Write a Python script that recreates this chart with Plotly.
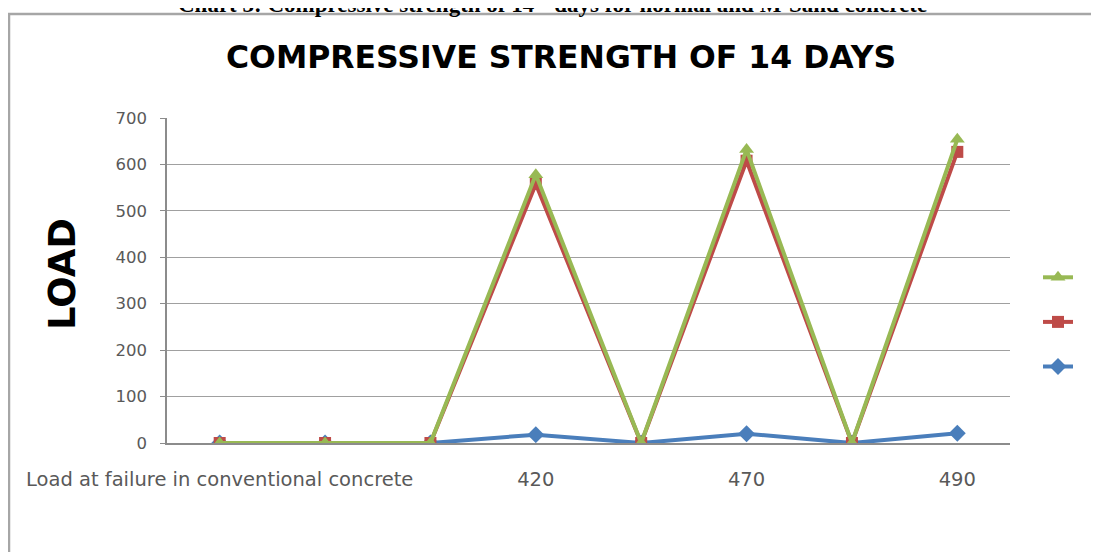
import plotly.graph_objects as go

# ---- data ----
categories = ["Load at failure in conventional concrete", "", "", "420", "", "470", "", "490"]
series_names = ["", " ", "  "]
blue_values = [0, 0, 0, 18, 0, 20, 0, 21]
red_values = [0, 0, 0, 558, 0, 608, 0, 627]
green_values = [0, 0, 0, 578, 0, 632, 0, 654]
y_ticks = [0, 100, 200, 300, 400, 500, 600, 700]

# the page body has an 8px margin, so the figure is offset by 8px in the window
OFF = 8
W, H = 1099 - OFF, 552 - OFF
# plot area in window pixels: x 167..1010, y 118..443
PX0, PX1, PY0, PY1 = 167, 1010, 118, 443
L, R = PX0 - OFF, W - (PX1 - OFF)
T, B = PY0 - OFF, H - (PY1 - OFF)
PW, PH = PX1 - PX0, PY1 - PY0


def px(xw):
    return (xw - PX0) / PW


def py(yw):
    return (PY1 - yw) / PH


x_idx = list(range(len(categories)))

fig = go.Figure()
fig.add_trace(go.Scatter(
    x=x_idx, y=blue_values, name=series_names[2], mode="lines+markers",
    line=dict(color="#4A7EBB", width=4),
    marker=dict(symbol="diamond", size=13, color="#4A7EBB"),
))
fig.add_trace(go.Scatter(
    x=x_idx, y=red_values, name=series_names[1], mode="lines+markers",
    line=dict(color="#BE4B48", width=4),
    marker=dict(symbol="square", size=12, color="#BE4B48"),
))
fig.add_trace(go.Scatter(
    x=x_idx, y=green_values, name=series_names[0], mode="lines+markers",
    line=dict(color="#98B954", width=4),
    marker=dict(symbol="triangle-up", size=13, color="#98B954"),
))

fig.update_layout(
    width=W, height=H,
    margin=dict(l=L, r=R, t=T, b=B, autoexpand=False),
    paper_bgcolor="white", plot_bgcolor="white",
    showlegend=True,
    legend=dict(
        x=px(1038), y=py(250), xanchor="left", yanchor="top",
        traceorder="reversed", font=dict(size=32, family="DejaVu Sans"),
        bgcolor="rgba(0,0,0,0)", itemwidth=30,
    ),
    xaxis=dict(
        range=[-0.5, len(categories) - 0.5],
        tickmode="array", tickvals=x_idx, ticktext=categories,
        showgrid=False, zeroline=False, automargin=False,
        showline=True, linecolor="#8c8c8c", linewidth=1.5,
        ticks="", tickfont=dict(family="DejaVu Sans", size=19.5, color="#595959"),
        ticklabelstandoff=18,
    ),
    yaxis=dict(
        range=[0, 700], tickvals=y_ticks, automargin=False,
        showgrid=True, gridcolor="#a0a0a0", gridwidth=1,
        zeroline=False,
        showline=True, linecolor="#8c8c8c", linewidth=1.5,
        ticks="outside", ticklen=5, tickcolor="#8c8c8c",
        tickfont=dict(family="DejaVu Sans", size=16.5, color="#595959"),
        ticklabelstandoff=10,
    ),
    shapes=[dict(
        type="rect", xref="paper", yref="paper",
        x0=px(9), x1=px(1130), y0=py(14), y1=py(600),
        line=dict(color="#a6a6a6", width=2.5), fillcolor="rgba(0,0,0,0)",
        layer="above",
    )],
    annotations=[
        dict(
            text="COMPRESSIVE STRENGTH OF 14 DAYS", showarrow=False,
            xref="paper", yref="paper", x=px(561), y=py(57),
            xanchor="center", yanchor="middle",
            font=dict(family="DejaVu Sans", size=31.5, color="black", weight="bold"),
        ),
        dict(
            text="LOAD", showarrow=False, textangle=-90,
            xref="paper", yref="paper", x=px(62), y=py(274),
            xanchor="center", yanchor="middle",
            font=dict(family="DejaVu Sans", size=37, color="black", weight="bold"),
        ),
        dict(
            text="Chart 3: Compressive strength of 14<sup>th</sup> days for normal and M-Sand concrete",
            showarrow=False,
            xref="paper", yref="paper", x=px(552), y=py(2),
            xanchor="center", yanchor="middle",
            font=dict(family="Liberation Serif", size=23, color="black", weight="bold"),
        ),
    ],
)

fig.write_html("out.html")
